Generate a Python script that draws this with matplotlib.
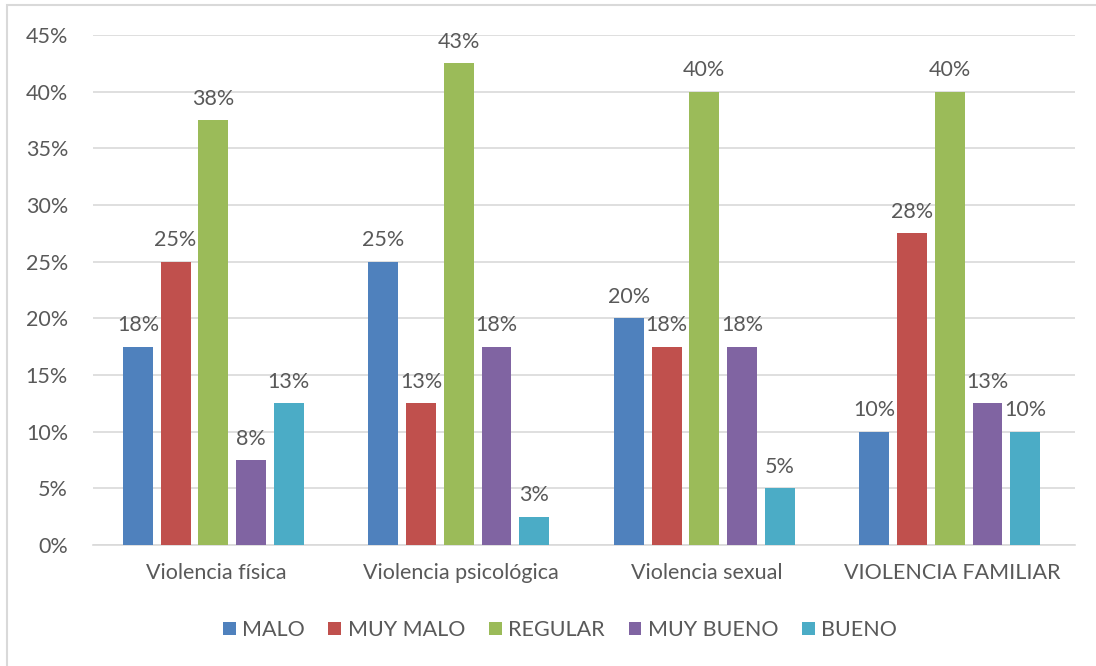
import matplotlib.pyplot as plt
import numpy as np
from matplotlib.patches import Rectangle

plt.rcParams['font.family'] = ['Lato', 'DejaVu Sans']

categorias = ["Violencia física", "Violencia psicológica", "Violencia sexual", "VIOLENCIA FAMILIAR"]
series = ["MALO", "MUY MALO", "REGULAR", "MUY BUENO", "BUENO"]
malo = [17.5, 25, 20, 10]
muy_malo = [25, 12.5, 17.5, 27.5]
regular = [37.5, 42.5, 40, 40]
muy_bueno = [7.5, 17.5, 17.5, 12.5]
bueno = [12.5, 2.5, 5, 10]
colores = ["#4F81BD", "#C0504D", "#9BBB59", "#8064A2", "#4BACC6"]
txt = "#595959"

valores = [malo, muy_malo, regular, muy_bueno, bueno]

fig = plt.figure(figsize=(10.96, 6.66), dpi=100)
fig.patches.append(Rectangle((7/1096, -0.1), 1.2, 1.1 - 5/666,
                             transform=fig.transFigure, fill=False,
                             edgecolor="#d9d9d9", linewidth=1.5))
ax = fig.add_axes([93/1096, 1 - 545/666, (1075 - 93)/1096, (545 - 35)/666])

fs = 15.5
x = np.arange(len(categorias))
ancho = 0.122
paso = 0.1536
for i, (nombre, vals) in enumerate(zip(series, valores)):
    pos = x + (i - 2) * paso - 0.01
    ax.bar(pos, vals, ancho, color=colores[i], label=nombre, zorder=3)
    for p, v in zip(pos, vals):
        ax.text(p, v + 1.0, f"{int(v + 0.5)}%", ha="center", va="bottom",
                fontsize=fs, color=txt)

ax.set_xlim(-0.5, 3.5)
ax.set_ylim(0, 45)
ax.set_yticks(np.arange(0, 46, 5))
ax.set_yticklabels([f"{t}%" for t in range(0, 46, 5)])
ax.set_xticks(x)
ax.set_xticklabels(categorias)
ax.tick_params(axis="both", length=0, labelsize=fs, colors=txt)
ax.tick_params(axis="y", pad=18)
ax.tick_params(axis="x", pad=13)
ax.grid(axis="y", color="#d9d9d9", linewidth=1.2, zorder=0)
for s in ["top", "right", "left"]:
    ax.spines[s].set_visible(False)
ax.spines["bottom"].set_color("#d9d9d9")
ax.spines["bottom"].set_linewidth(1.2)

ax.legend(loc="center", bbox_to_anchor=(560/1096, 1 - 630/666),
          bbox_transform=fig.transFigure, ncol=5, frameon=False,
          fontsize=fs, labelcolor=txt, handlelength=0.6, handleheight=0.6,
          handletextpad=0.3, columnspacing=1.1)

fig.savefig("out.png", dpi=100)
